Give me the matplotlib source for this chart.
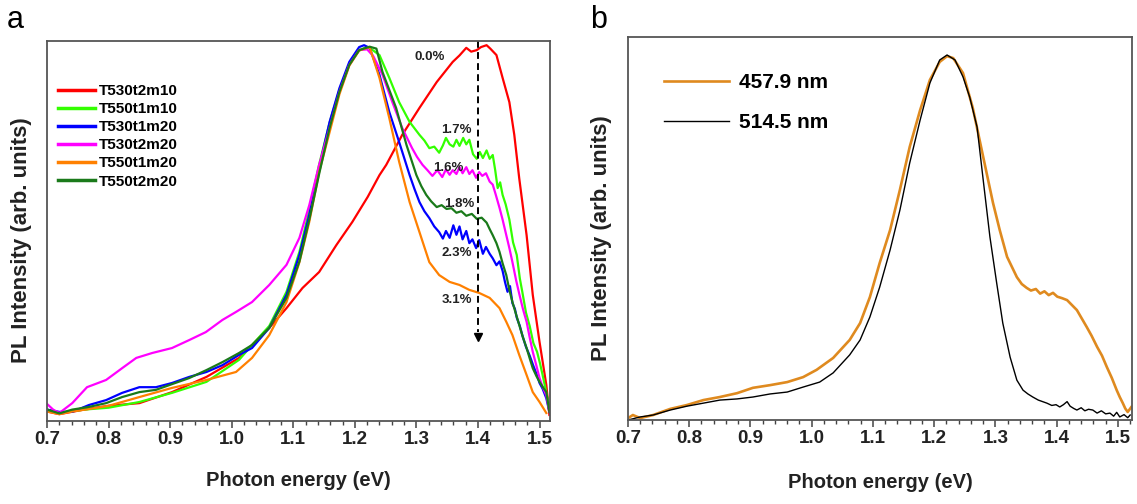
import numpy as np
import matplotlib
matplotlib.use("Agg")
import matplotlib.pyplot as plt
from matplotlib.ticker import MultipleLocator, FormatStrFormatter

plt.rcParams['font.family'] = ['Liberation Sans', 'DejaVu Sans']

# ---- panel a: PL spectra of six samples (normalised) ----
E_red = [0.700, 0.720, 0.760, 0.800, 0.850, 0.903, 0.959, 1.012, 1.033, 1.061, 1.089, 1.115, 1.142, 1.170,
         1.196, 1.221, 1.240, 1.251, 1.277, 1.305, 1.333, 1.359, 1.370, 1.381, 1.389, 1.398, 1.405, 1.414,
         1.420, 1.430, 1.440, 1.451, 1.459, 1.467, 1.479, 1.489, 1.500, 1.511, 1.516]
I_red = [0.025, 0.018, 0.030, 0.040, 0.047, 0.076, 0.116, 0.166, 0.200, 0.245, 0.297, 0.350, 0.392, 0.463,
         0.524, 0.590, 0.647, 0.674, 0.753, 0.824, 0.892, 0.945, 0.962, 0.982, 0.972, 0.976, 0.984, 0.989,
         0.980, 0.963, 0.903, 0.839, 0.753, 0.639, 0.489, 0.332, 0.208, 0.095, 0.016]

E_lgreen = [0.700, 0.720, 0.760, 0.800, 0.850, 0.903, 0.959, 1.012, 1.033, 1.061, 1.089, 1.110, 1.126, 1.142,
            1.159, 1.175, 1.191, 1.207, 1.219, 1.224, 1.240, 1.256, 1.272, 1.289, 1.297, 1.305, 1.313, 1.321,
            1.329, 1.337, 1.343, 1.348, 1.354, 1.360, 1.365, 1.370, 1.376, 1.381, 1.386, 1.392, 1.398, 1.403,
            1.408, 1.414, 1.419, 1.424, 1.428, 1.432, 1.436, 1.440, 1.445, 1.451, 1.457, 1.463, 1.468, 1.472,
            1.478, 1.484, 1.490, 1.496, 1.501, 1.505, 1.511, 1.516]
I_lgreen = [0.030, 0.021, 0.030, 0.035, 0.050, 0.074, 0.103, 0.161, 0.200, 0.250, 0.340, 0.445, 0.555, 0.675,
            0.785, 0.872, 0.940, 0.975, 0.984, 0.982, 0.963, 0.903, 0.839, 0.787, 0.770, 0.753, 0.738, 0.718,
            0.722, 0.706, 0.725, 0.745, 0.728, 0.722, 0.740, 0.724, 0.745, 0.728, 0.740, 0.702, 0.690, 0.708,
            0.692, 0.712, 0.690, 0.700, 0.660, 0.613, 0.628, 0.595, 0.570, 0.530, 0.470, 0.437, 0.375, 0.340,
            0.285, 0.250, 0.205, 0.182, 0.150, 0.121, 0.075, 0.034]

E_blue = [0.700, 0.720, 0.741, 0.768, 0.796, 0.822, 0.850, 0.877, 0.903, 0.931, 0.959, 0.985, 1.012, 1.033,
          1.061, 1.089, 1.110, 1.126, 1.142, 1.159, 1.175, 1.191, 1.207, 1.215, 1.224, 1.240, 1.256, 1.272,
          1.289, 1.297, 1.305, 1.313, 1.321, 1.329, 1.337, 1.343, 1.348, 1.354, 1.360, 1.365, 1.370, 1.375,
          1.381, 1.386, 1.391, 1.397, 1.402, 1.408, 1.413, 1.419, 1.424, 1.430, 1.435, 1.440, 1.444, 1.448,
          1.452, 1.456, 1.460, 1.463, 1.468, 1.472, 1.478, 1.484, 1.490, 1.496, 1.500, 1.505, 1.511, 1.516]
I_blue = [0.030, 0.024, 0.024, 0.042, 0.055, 0.074, 0.089, 0.089, 0.100, 0.116, 0.129, 0.147, 0.174, 0.192,
          0.245, 0.332, 0.437, 0.542, 0.666, 0.787, 0.876, 0.945, 0.984, 0.989, 0.982, 0.911, 0.813, 0.734,
          0.647, 0.610, 0.576, 0.552, 0.534, 0.512, 0.497, 0.480, 0.500, 0.482, 0.515, 0.490, 0.512, 0.478,
          0.500, 0.468, 0.478, 0.455, 0.476, 0.440, 0.458, 0.440, 0.428, 0.410, 0.420, 0.395, 0.365, 0.340,
          0.355, 0.310, 0.295, 0.272, 0.250, 0.226, 0.195, 0.172, 0.145, 0.120, 0.100, 0.085, 0.060, 0.024]

E_mag = [0.700, 0.710, 0.720, 0.741, 0.765, 0.796, 0.822, 0.845, 0.871, 0.903, 0.931, 0.958, 0.985, 1.007,
         1.033, 1.061, 1.089, 1.110, 1.126, 1.142, 1.159, 1.175, 1.191, 1.207, 1.220, 1.230, 1.245, 1.261,
         1.277, 1.293, 1.301, 1.310, 1.318, 1.326, 1.334, 1.342, 1.348, 1.354, 1.359, 1.365, 1.370, 1.375,
         1.381, 1.386, 1.391, 1.397, 1.402, 1.407, 1.413, 1.419, 1.424, 1.429, 1.435, 1.440, 1.446, 1.451,
         1.456, 1.462, 1.467, 1.473, 1.479, 1.484, 1.489, 1.495, 1.500, 1.505, 1.511, 1.516]
I_mag = [0.045, 0.030, 0.021, 0.047, 0.089, 0.108, 0.139, 0.166, 0.179, 0.192, 0.213, 0.234, 0.266, 0.287,
         0.313, 0.358, 0.411, 0.482, 0.568, 0.674, 0.771, 0.866, 0.937, 0.976, 0.978, 0.960, 0.911, 0.839,
         0.771, 0.718, 0.695, 0.674, 0.660, 0.645, 0.660, 0.642, 0.662, 0.648, 0.660, 0.650, 0.668, 0.652,
         0.668, 0.650, 0.660, 0.640, 0.655, 0.645, 0.652, 0.630, 0.622, 0.595, 0.561, 0.530, 0.489, 0.455,
         0.418, 0.370, 0.335, 0.295, 0.261, 0.220, 0.182, 0.145, 0.113, 0.090, 0.068, 0.024]

E_orange = [0.700, 0.720, 0.741, 0.770, 0.800, 0.850, 0.903, 0.959, 1.007, 1.033, 1.061, 1.089, 1.110, 1.126,
            1.142, 1.159, 1.175, 1.191, 1.207, 1.224, 1.240, 1.256, 1.272, 1.289, 1.305, 1.321, 1.337, 1.354,
            1.370, 1.386, 1.402, 1.419, 1.435, 1.446, 1.456, 1.467, 1.479, 1.489, 1.500, 1.511]
I_orange = [0.025, 0.018, 0.025, 0.032, 0.040, 0.063, 0.087, 0.108, 0.129, 0.166, 0.226, 0.313, 0.418, 0.524,
            0.655, 0.760, 0.860, 0.935, 0.975, 0.984, 0.903, 0.797, 0.682, 0.576, 0.497, 0.418, 0.384, 0.366,
            0.358, 0.345, 0.337, 0.324, 0.297, 0.261, 0.226, 0.174, 0.121, 0.076, 0.050, 0.021]

E_dgreen = [0.700, 0.720, 0.741, 0.768, 0.796, 0.822, 0.850, 0.877, 0.903, 0.931, 0.959, 0.985, 1.012, 1.033,
            1.061, 1.089, 1.110, 1.126, 1.142, 1.159, 1.175, 1.191, 1.207, 1.224, 1.235, 1.245, 1.267, 1.284,
            1.300, 1.308, 1.316, 1.324, 1.333, 1.341, 1.349, 1.357, 1.365, 1.373, 1.381, 1.390, 1.398, 1.406,
            1.414, 1.419, 1.424, 1.430, 1.435, 1.440, 1.446, 1.451, 1.456, 1.462, 1.467, 1.473, 1.479, 1.484,
            1.489, 1.495, 1.500, 1.505, 1.511, 1.516]
I_dgreen = [0.030, 0.020, 0.030, 0.037, 0.047, 0.063, 0.076, 0.082, 0.097, 0.113, 0.134, 0.155, 0.179, 0.200,
            0.245, 0.324, 0.420, 0.530, 0.650, 0.771, 0.866, 0.937, 0.976, 0.985, 0.980, 0.918, 0.824, 0.726,
            0.647, 0.618, 0.595, 0.578, 0.563, 0.568, 0.558, 0.560, 0.548, 0.552, 0.540, 0.545, 0.532, 0.535,
            0.522, 0.505, 0.489, 0.468, 0.445, 0.415, 0.384, 0.345, 0.313, 0.280, 0.253, 0.220, 0.192, 0.165,
            0.139, 0.118, 0.103, 0.090, 0.076, 0.024]

samples = ['T530t2m10', 'T550t1m10', 'T530t1m20', 'T530t2m20', 'T550t1m20', 'T550t2m20']
pct_labels = ['0.0%', '1.7%', '1.6%', '1.8%', '2.3%', '3.1%']
pct_E = [1.321, 1.365, 1.352, 1.369, 1.366, 1.366]
pct_I = [0.958, 0.766, 0.666, 0.571, 0.442, 0.318]

# ---- panel b: two excitation wavelengths ----
E_457 = [0.700, 0.708, 0.720, 0.741, 0.769, 0.796, 0.823, 0.850, 0.878, 0.904, 0.932, 0.960, 0.986, 1.008,
         1.035, 1.062, 1.079, 1.095, 1.111, 1.128, 1.144, 1.160, 1.177, 1.193, 1.209, 1.221, 1.231, 1.247,
         1.263, 1.280, 1.296, 1.307, 1.319, 1.335, 1.343, 1.351, 1.358, 1.366, 1.373, 1.380, 1.387, 1.394,
         1.401, 1.409, 1.417, 1.425, 1.433, 1.441, 1.449, 1.457, 1.466, 1.474, 1.482, 1.490, 1.498, 1.503,
         1.508, 1.512, 1.516, 1.522]
I_457 = [0.005, 0.013, 0.005, 0.013, 0.029, 0.039, 0.052, 0.060, 0.070, 0.084, 0.091, 0.099, 0.112, 0.131,
         0.162, 0.209, 0.253, 0.321, 0.410, 0.496, 0.601, 0.713, 0.809, 0.888, 0.935, 0.950, 0.945, 0.906,
         0.815, 0.687, 0.567, 0.496, 0.426, 0.373, 0.355, 0.345, 0.338, 0.342, 0.330, 0.336, 0.326, 0.332,
         0.322, 0.318, 0.313, 0.300, 0.287, 0.265, 0.243, 0.220, 0.191, 0.168, 0.138, 0.110, 0.078, 0.060,
         0.044, 0.030, 0.021, 0.034]

E_514 = [0.700, 0.720, 0.741, 0.769, 0.796, 0.823, 0.850, 0.878, 0.904, 0.932, 0.960, 0.986, 1.013, 1.035,
         1.062, 1.079, 1.095, 1.111, 1.128, 1.144, 1.160, 1.177, 1.193, 1.209, 1.221, 1.234, 1.247, 1.258,
         1.270, 1.280, 1.291, 1.302, 1.312, 1.324, 1.335, 1.345, 1.353, 1.361, 1.370, 1.377, 1.384, 1.392,
         1.399, 1.405, 1.411, 1.417, 1.422, 1.428, 1.433, 1.440, 1.446, 1.452, 1.459, 1.466, 1.473, 1.480,
         1.487, 1.493, 1.498, 1.503, 1.510, 1.516, 1.520]
I_514 = [0.000, 0.008, 0.013, 0.026, 0.036, 0.044, 0.052, 0.055, 0.060, 0.068, 0.073, 0.086, 0.099, 0.123,
         0.170, 0.209, 0.269, 0.347, 0.444, 0.548, 0.671, 0.783, 0.880, 0.940, 0.953, 0.940, 0.896, 0.843,
         0.765, 0.627, 0.478, 0.358, 0.253, 0.164, 0.104, 0.078, 0.068, 0.060, 0.052, 0.048, 0.044, 0.038,
         0.040, 0.034, 0.040, 0.048, 0.036, 0.030, 0.026, 0.032, 0.024, 0.028, 0.026, 0.018, 0.024, 0.016,
         0.018, 0.010, 0.020, 0.008, 0.014, 0.006, 0.013]

colors_a = ['#ff0000', '#33ff00', '#0000ff', '#ff00ff', '#ff8000', '#1a7a1a']
series_a = [(E_red, I_red), (E_lgreen, I_lgreen), (E_blue, I_blue),
            (E_mag, I_mag), (E_orange, I_orange), (E_dgreen, I_dgreen)]

W, H = 1137, 504
fig = plt.figure(figsize=(W / 100, H / 100), dpi=100)


def px_axes(l, t, r, b):
    return fig.add_axes([l / W, 1 - b / H, (r - l) / W, (b - t) / H])


def style(ax, xmax):
    ax.set_xlim(0.7, xmax)
    ax.set_ylim(0, 1.0)
    ax.set_yticks([])
    ax.xaxis.set_major_locator(MultipleLocator(0.1))
    ax.xaxis.set_minor_locator(MultipleLocator(0.02))
    ax.xaxis.set_major_formatter(FormatStrFormatter('%.1f'))
    ax.tick_params(axis='x', which='major', direction='out', length=5, width=1.1,
                   color='#444444', pad=2, labelsize=13.5)
    ax.tick_params(axis='x', which='minor', direction='out', length=3, width=1.0, color='#444444')
    ax.tick_params(top=False, right=False)
    for lab in ax.get_xticklabels():
        lab.set_fontweight('bold')
        lab.set_color('#222222')
    for sp in ax.spines.values():
        sp.set_color('#555555')
        sp.set_linewidth(1.3)


# panel a
ax1 = px_axes(47, 41, 550, 421)
for (E, I), c, name in zip(series_a, colors_a, samples):
    ax1.plot(E, I, color=c, lw=1.6, label=name)
style(ax1, 1.517)
ax1.plot([1.40, 1.40], [1.0, 0.235], color='black', lw=1.4, dashes=(3.5, 2.2))
ax1.plot([1.40], [0.222], marker='v', color='black', markersize=6)
for t, x, y in zip(pct_labels, pct_E, pct_I):
    ax1.text(x, y, t, fontsize=9.5, fontweight='bold', ha='center', va='center', color='#222222')
leg1 = ax1.legend(loc='upper left', bbox_to_anchor=(0.022, 0.887), frameon=False, borderaxespad=0,
                  borderpad=0, handlelength=2.4, handletextpad=0.3, labelspacing=0.27,
                  prop={'weight': 'bold', 'size': 11})
for h in leg1.get_lines():
    h.set_linewidth(2.5)

# panel b
ax2 = px_axes(628, 37, 1132, 420)
ax2.plot(E_457, I_457, color='#df8a1f', lw=1.9, label='457.9 nm')
ax2.plot(E_514, I_514, color='black', lw=1.0, label='514.5 nm')
style(ax2, 1.523)
leg2 = ax2.legend(loc='upper left', bbox_to_anchor=(0.072, 0.905), frameon=False, borderaxespad=0,
                  borderpad=0, handlelength=3.1, handletextpad=0.5, labelspacing=1.0,
                  prop={'weight': 'bold', 'size': 15})

# axis labels and panel letters
lab = dict(fontweight='bold', color='#222222', ha='center', va='center')
fig.text(298 / W, 1 - 480 / H, 'Photon energy (eV)', fontsize=14.5, **lab)
fig.text(880 / W, 1 - 482 / H, 'Photon energy (eV)', fontsize=14.5, **lab)
fig.text(22 / W, 1 - 240 / H, 'PL Intensity (arb. units)', rotation=90, fontsize=16, **lab)
fig.text(601 / W, 1 - 238 / H, 'PL Intensity (arb. units)', rotation=90, fontsize=16, **lab)
fig.text(7 / W, 1 - 28 / H, 'a', fontsize=22, ha='left', va='baseline')
fig.text(590 / W, 1 - 28 / H, 'b', fontsize=22, ha='left', va='baseline')

fig.savefig('out.png', dpi=100)
